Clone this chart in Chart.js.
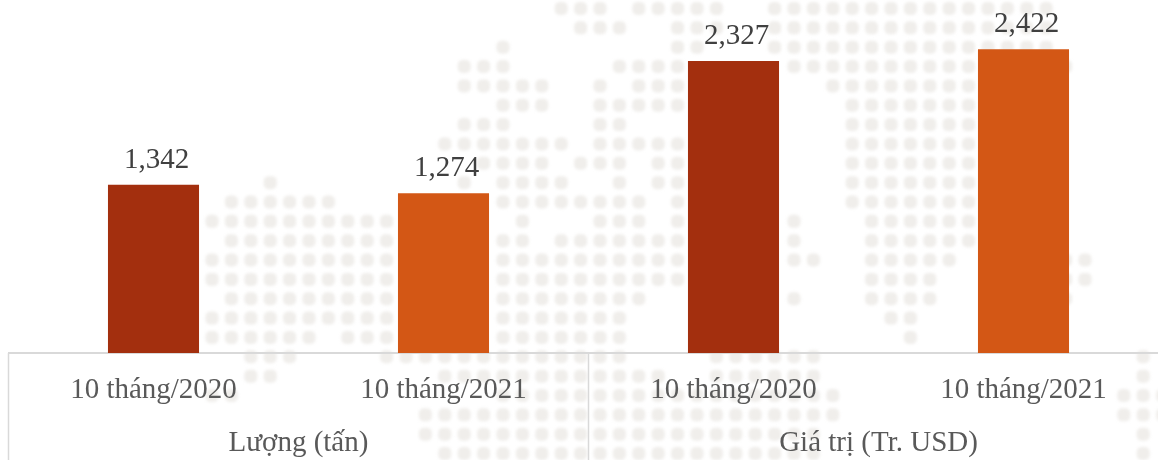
<!DOCTYPE html>
<html><head><meta charset="utf-8">
<script src="https://cdn.jsdelivr.net/npm/chart.js@4/dist/chart.umd.min.js"></script>
<style>html,body{margin:0;padding:0;background:#fff;overflow:hidden;width:1158px;height:460px}canvas{display:block}</style>
</head><body><canvas id="c" width="1170" height="460"></canvas>
<script>
const categories = ['10 tháng/2020','10 tháng/2021','10 tháng/2020','10 tháng/2021'];
const groups = ['Lượng (tấn)','Giá trị (Tr. USD)'];
const values = [1342,1274,2327,2422];
const barColors = ['#A32F0E','#D35715','#A32F0E','#D35715'];
const valueLabels = ['1,342','1,274','2,327','2,422'];

// Decorative dotted world-map backdrop: column runs [from,to] for each row of the dot grid
const mapRows = [
 [[18,20],[22,26],[29,43]],
 [[19,21],[24,26],[29,43]],
 [[15,15],[24,25],[29,43]],
 [[13,15],[21,24],[30,39],[44,44]],
 [[13,17],[20,20],[22,24],[32,39]],
 [[15,17],[20,24],[33,39]],
 [[13,15],[20,21],[33,39]],
 [[12,18],[20,24],[33,39]],
 [[14,17],[19,21],[23,24],[33,39]],
 [[3,3],[13,13],[15,18],[21,21],[23,24],[33,39]],
 [[1,6],[15,22],[24,24],[33,39]],
 [[0,9],[16,16],[20,22],[24,24],[30,30],[34,39]],
 [[1,9],[15,16],[18,24],[30,30],[34,39]],
 [[0,9],[15,24],[30,31],[34,38],[44,45]],
 [[0,9],[15,24],[34,37],[44,45]],
 [[1,9],[15,22],[30,30],[34,37],[44,44]],
 [[0,9],[15,21],[35,36]],
 [[0,5],[7,9],[15,21],[36,36]],
 [[2,4],[9,21],[26,31],[48,48]],
 [[2,3],[12,23],[26,31],[48,48]],
 [[0,1],[15,32],[47,49]],
 [[11,32],[47,49]],
 [[11,31],[48,48]],
 [[12,31],[48,48]]
];
const serif = '"Liberation Serif","Times New Roman",serif';

const dotMap = {
  id:'dotMap',
  beforeDraw(chart){
    const ctx = chart.ctx;
    ctx.save();
    ctx.fillStyle = '#fff';
    ctx.fillRect(0,0,chart.width,chart.height);
    ctx.filter = 'blur(1.6px)';
    ctx.fillStyle = '#f0eeeb';
    mapRows.forEach((runs,j)=>{
      const y = 8.5 + 19.35*j;
      runs.forEach(([a,b])=>{
        for(let i=a;i<=b;i++){
          ctx.beginPath();
          ctx.roundRect(212+19.4*i-6.5,y-6.5,13,13,5);
          ctx.fill();
        }
      });
    });
    ctx.restore();
  }
};
const separators = {
  id:'separators',
  afterDraw(chart){
    const s = chart.scales.x2, ctx = chart.ctx;
    ctx.save();
    ctx.strokeStyle = '#d9d9d9';
    ctx.lineWidth = 1.5;
    [s.left,(s.left+s.right)/2,s.right].forEach(x=>{
      ctx.beginPath();
      ctx.moveTo(x,chart.scales.y.bottom);
      ctx.lineTo(x,chart.height);
      ctx.stroke();
    });
    ctx.restore();
  }
};
const valueText = {
  id:'valueText',
  afterDatasetsDraw(chart){
    const ctx = chart.ctx;
    ctx.save();
    ctx.font = '29px '+serif;
    ctx.fillStyle = '#404040';
    ctx.textAlign = 'center';
    ctx.textBaseline = 'alphabetic';
    chart.getDatasetMeta(0).data.forEach((bar,i)=>{
      ctx.fillText(valueLabels[i],bar.x+3,bar.y-17);
    });
    ctx.restore();
  }
};
new Chart(document.getElementById('c'),{
  type:'bar',
  data:{labels:categories,datasets:[{data:values,backgroundColor:barColors,borderWidth:0,
    categoryPercentage:1,barPercentage:0.314,xAxisID:'x',yAxisID:'y'}]},
  plugins:[dotMap,separators,valueText],
  options:{
    responsive:false,animation:false,
    layout:{padding:{left:8.5,right:1.5,top:0,bottom:0}},
    plugins:{legend:{display:false},title:{display:false},tooltip:{enabled:false}},
    scales:{
      y:{display:false,min:0,max:2814},
      x:{position:'bottom',offset:true,
        grid:{display:false,drawTicks:false},
        border:{display:true,color:'#d9d9d9',width:2},
        ticks:{autoSkip:false,maxRotation:0,color:'#595959',padding:20,font:{family:serif,size:29}},
        afterFit(s){s.height=53.5;}},
      x2:{type:'category',position:'bottom',offset:true,labels:groups,
        grid:{display:false,drawTicks:false},
        border:{display:false},
        ticks:{autoSkip:false,maxRotation:0,color:'#595959',padding:19,font:{family:serif,size:29}},
        afterFit(s){s.height=53.5;}}
    }
  }
});
</script></body></html>
